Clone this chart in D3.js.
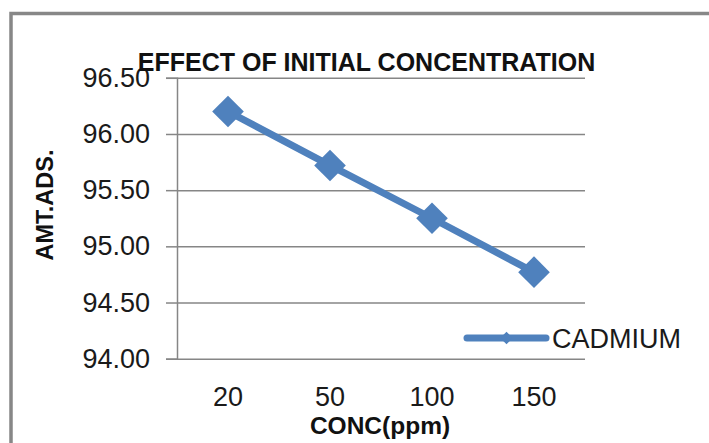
<!DOCTYPE html>
<html>
<head>
<meta charset="utf-8">
<script src="https://cdn.jsdelivr.net/npm/d3@7"></script>
<style>
  html, body { margin: 0; padding: 0; background: #fff; }
  svg { display: block; font-family: "Liberation Sans", Arial, sans-serif; }
</style>
</head>
<body>
<div id="chart"></div>
<script>
const categories = ["20", "50", "100", "150"];
const cadmium = [96.20, 95.72, 95.25, 94.77];
const yTicks = [94.00, 94.50, 95.00, 95.50, 96.00, 96.50];
const seriesName = "CADMIUM";

const W = 709, H = 443;
const plot = { left: 177, right: 585, top: 77.8, bottom: 358.7 };
const blue = "#4F81BD";
const gridColor = "#868686";

const svg = d3.select("#chart").append("svg")
    .attr("width", W)
    .attr("height", H);

//outer chart frame (runs off the right and bottom edges)
svg.append("rect")
    .attr("x", 11).attr("y", 13.5)
    .attr("width", W + 20).attr("height", H + 20)
    .attr("fill", "none")
    .attr("stroke", "#878787")
    .attr("stroke-width", 3.5);

const x = d3.scaleBand()
    .domain(categories)
    .range([plot.left, plot.right]);

const y = d3.scaleLinear()
    .domain([yTicks[0], yTicks[yTicks.length - 1]])
    .range([plot.bottom, plot.top]);

//gridlines + y ticks
const yAxis = svg.append("g")
    .attr("transform", `translate(${plot.left},0)`)
    .call(d3.axisLeft(y)
        .tickValues(yTicks)
        .tickFormat(d3.format(".2f"))
        .tickSize(11)
        .tickPadding(16));
yAxis.select(".domain").attr("stroke", gridColor).attr("stroke-width", 1.5);
yAxis.selectAll(".tick line").attr("stroke", gridColor).attr("stroke-width", 1.5);
yAxis.selectAll(".tick line")
    .clone()
    .attr("x1", 0)
    .attr("x2", plot.right - plot.left);
yAxis.selectAll(".tick text")
    .attr("font-size", 27)
    .attr("font-family", "Liberation Sans, Arial, sans-serif")
    .attr("fill", "#1a1a1a");

//x labels
const xAxis = svg.append("g")
    .attr("transform", `translate(0,${plot.bottom})`)
    .call(d3.axisBottom(x).tickSize(0).tickPadding(28));
xAxis.select(".domain").remove();
xAxis.selectAll(".tick text")
    .attr("font-size", 27)
    .attr("font-family", "Liberation Sans, Arial, sans-serif")
    .attr("fill", "#1a1a1a");

//series line
const pts = categories.map((c, i) => ({ c, v: cadmium[i] }));
const line = d3.line()
    .x(d => x(d.c) + x.bandwidth() / 2)
    .y(d => y(d.v));

svg.append("path")
    .datum(pts)
    .attr("d", line)
    .attr("fill", "none")
    .attr("stroke", blue)
    .attr("stroke-width", 7)
    .attr("stroke-linejoin", "round");

svg.selectAll(".marker")
    .data(pts)
    .join("path")
    .attr("class", "marker")
    .attr("d", d3.symbol(d3.symbolSquare, 500))
    .attr("transform", d => `translate(${x(d.c) + x.bandwidth() / 2},${y(d.v)}) rotate(45)`)
    .attr("fill", blue);

//title
svg.append("text")
    .attr("x", 366.5)
    .attr("y", 71)
    .attr("text-anchor", "middle")
    .attr("font-size", 25)
    .attr("font-weight", "bold")
    .attr("fill", "#111")
    .text("EFFECT OF INITIAL CONCENTRATION");

//axis titles
svg.append("text")
    .attr("x", 380)
    .attr("y", 434)
    .attr("text-anchor", "middle")
    .attr("font-size", 24.5)
    .attr("font-weight", "bold")
    .attr("fill", "#111")
    .text("CONC(ppm)");

svg.append("text")
    .attr("transform", "translate(53,205) rotate(-90)")
    .attr("text-anchor", "middle")
    .attr("font-size", 23.5)
    .attr("font-weight", "bold")
    .attr("fill", "#111")
    .text("AMT.ADS.");

//legend
const legend = svg.append("g").attr("transform", "translate(467,338)");
legend.append("line")
    .attr("x1", 0).attr("x2", 79)
    .attr("stroke", blue)
    .attr("stroke-width", 7)
    .attr("stroke-linecap", "round");
legend.append("path")
    .attr("d", d3.symbol(d3.symbolSquare, 80))
    .attr("transform", "translate(39.5,0) rotate(45)")
    .attr("fill", blue);
legend.append("text")
    .attr("x", 85)
    .attr("y", 9.5)
    .attr("font-size", 27)
    .attr("fill", "#1a1a1a")
    .text(seriesName);
</script>
</body>
</html>
